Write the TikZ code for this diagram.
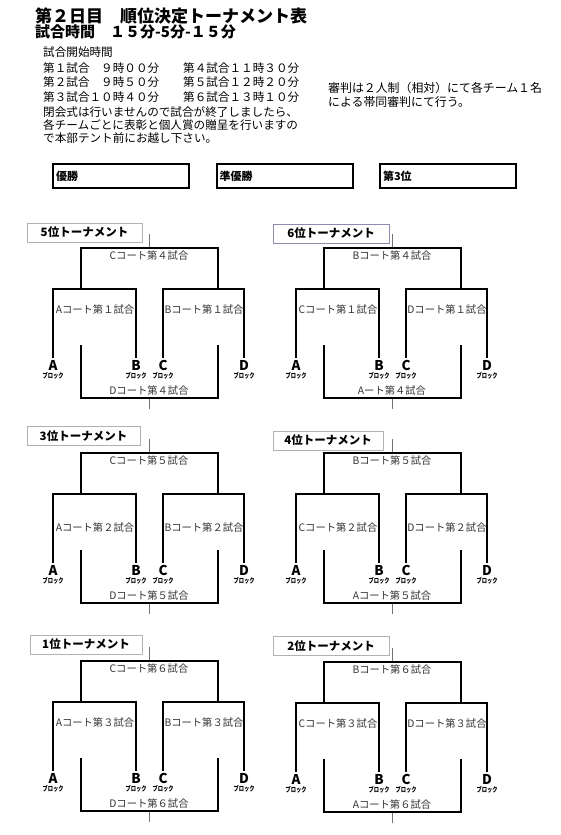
\documentclass[tikz,border=0pt]{standalone}
\usepackage{fontspec}
\setmainfont{Noto Sans CJK JP}
\newcommand{\fsz}[1]{\fontsize{#1}{#1}\selectfont}
\newcommand{\tourn}[8]{%
 \begin{scope}[shift={(#2,#3)}]
  \coordinate (#1t0) at (68,-14);
  \coordinate (#1t1) at (68,0);
  \coordinate (#1b0) at (68,150);
  \coordinate (#1b1) at (68,161);
  \draw[tick] (#1t0) -- (#1t1);
  \draw[tick] (#1b0) -- (#1b1);
  \draw[br] (0,41) -- (0,0) -- (137,0) -- (137,41);
  \draw[br] (-28,110) -- (-28,41) -- (55,41) -- (55,110);
  \draw[br] (82,110) -- (82,41) -- (163,41) -- (163,110);
  \draw[br] (0,97) -- (0,150) -- (137,150) -- (137,97);
  \node[tx] (#1top) at (68,8) {#5};
  \node[tx] (#1l) at (14,#4) {#6};
  \node[tx] (#1r) at (123,#4) {#7};
  \node[tx] (#1bot) at (68,143) {#8};
  \foreach \xx/\bl in {-28/A,55/B,82/C,163/D} {
    \node[blk] (#1\bl) at (\xx,117.5) {\bl};
    \node[blks] (#1\bl s) at (\xx,127.5) {ブロック};
  }
 \end{scope}}
\begin{document}
\begin{tikzpicture}[x=1pt,y=-1pt,
  br/.style={line width=2pt, line join=miter},
  tick/.style={line width=0.8pt, draw=black!55},
  tx/.style={inner sep=0, text=black!80, font=\fsz{10.3}},
  blk/.style={inner sep=0, font=\bfseries\fsz{13.5}},
  blks/.style={inner sep=0, font=\bfseries\fsz{7}, xscale=0.75},
  lbl/.style={draw=black!30, fill=white, inner sep=0, minimum height=19, font=\bfseries\fsz{11.5}},
  res/.style={draw, line width=2pt, inner xsep=3, inner ysep=0, minimum height=24, text width=130, align=left, font=\bfseries\fsz{11}},
  ttl/.style={anchor=west, inner sep=0},
  body/.style={anchor=west, inner sep=0, font=\fsz{11.6}}]
\useasboundingbox (0,0) rectangle (561,835);
% header
\node[ttl, font=\bfseries\fsz{17}] (title) at (35,16) {第２日目　順位決定トーナメント表};
\node[ttl, font=\bfseries\fsz{15}] (sub) at (35,31.5) {試合時間　１５分-5分-１５分};
\node[body] (h0) at (43,52) {試合開始時間};
\node[body] (m1) at (43,68.5) {第１試合　９時００分};
\node[body] (m4) at (183,68.5) {第４試合１１時３０分};
\node[body] (m2) at (43,82.5) {第２試合　９時５０分};
\node[body] (m5) at (183,82.5) {第５試合１２時２０分};
\node[body] (m3) at (43,97.5) {第３試合１０時４０分};
\node[body] (m6) at (183,97.5) {第６試合１３時１０分};
\node[body] (n1) at (43,112) {閉会式は行いませんので試合が終了しましたら、};
\node[body] (n2) at (43,125.5) {各チームごとに表彰と個人賞の贈呈を行いますの};
\node[body] (n3) at (43,138.5) {で本部テント前にお越し下さい。};
\node[body, font=\fsz{11.9}] (r1) at (328,88) {審判は２人制（相対）にて各チーム１名};
\node[body, font=\fsz{11.9}] (r2) at (328,102) {による帯同審判にて行う。};
% result boxes
\node[res] (win) at (121,176) {優勝};
\node[res] (second) at (284.5,176) {準優勝};
\node[res] (third) at (448,176) {第3位};
% tournaments
\tourn{p5}{81}{248}{62}{Cコート第４試合}{Aコート第１試合}{Bコート第１試合}{Dコート第４試合}
\tourn{p6}{324}{248}{62}{Bコート第４試合}{Cコート第１試合}{Dコート第１試合}{Aート第４試合}
\tourn{p3}{81}{453}{75}{Cコート第５試合}{Aコート第２試合}{Bコート第２試合}{Dコート第５試合}
\tourn{p4}{324}{453}{75}{Bコート第５試合}{Cコート第２試合}{Dコート第２試合}{Aコート第５試合}
\tourn{p1}{81}{661}{62}{Cコート第６試合}{Aコート第３試合}{Bコート第３試合}{Dコート第６試合}
\tourn{p2}{324}{662}{62}{Bコート第６試合}{Cコート第３試合}{Dコート第３試合}{Aコート第６試合}
% labels
\node[lbl, minimum width=115] (l5) at (84.5,232.5) {5位トーナメント};
\node[lbl, minimum width=116, draw=blue!30!black!45] (l6) at (331,233.5) {6位トーナメント};
\node[lbl, minimum width=113] (l3) at (83.5,436) {3位トーナメント};
\node[lbl, minimum width=110] (l4) at (328,440.5) {4位トーナメント};
\node[lbl, minimum width=112] (l1) at (86,644.5) {1位トーナメント};
\node[lbl, minimum width=116] (l2) at (331,646) {2位トーナメント};
\end{tikzpicture}
\end{document}
